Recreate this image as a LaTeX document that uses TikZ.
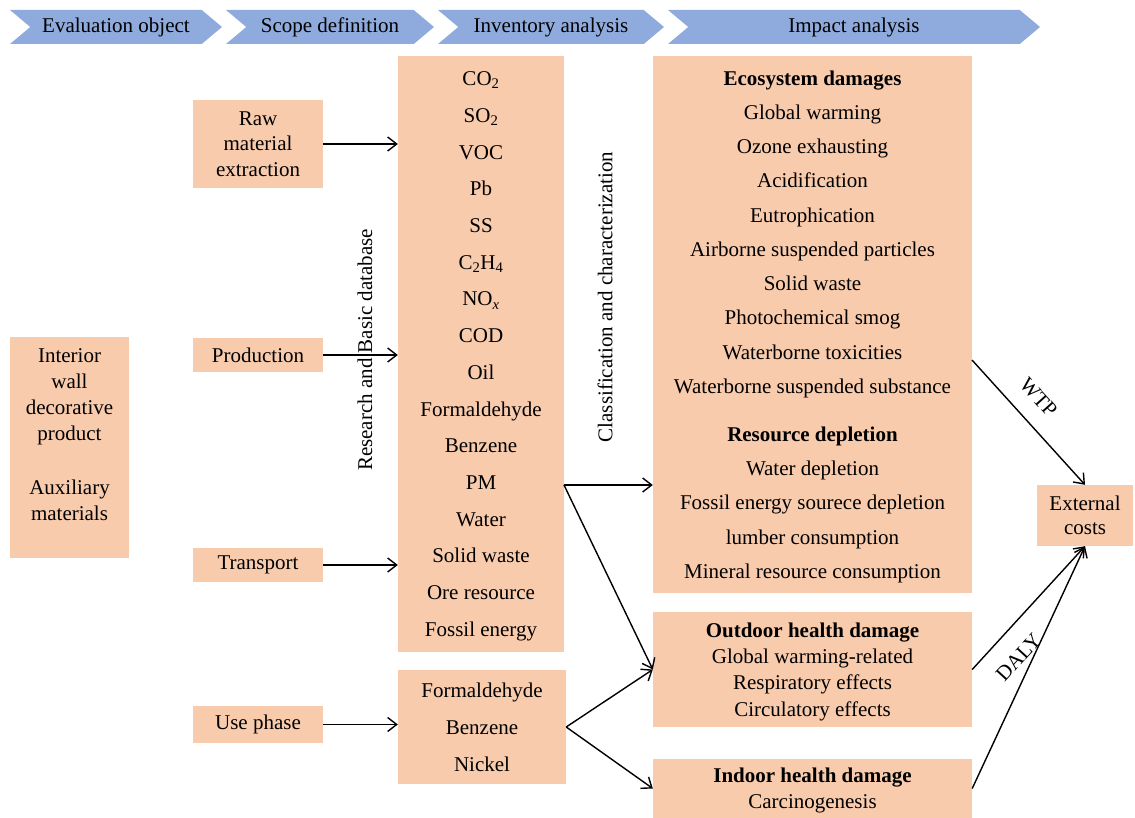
\documentclass[tikz,border=0pt]{standalone}
\usepackage{fontspec}
\setmainfont{Liberation Serif}
\usetikzlibrary{shapes.symbols,arrows.meta}
\definecolor{boxfill}{HTML}{F8CBAD}
\definecolor{phasefill}{HTML}{8FAADC}
\tikzset{
  box/.style={fill=boxfill,align=center,inner sep=0pt},
  phase/.style={signal,signal from=west,signal to=east,signal pointer angle=80,
    fill=phasefill,minimum height=34pt,inner sep=0pt},
  flow/.style={line width=1.4pt,-{Straight Barb[length=9pt,width=14pt]}},
  sp/.style={font=\fontsize{21}{#1}\selectfont,text depth=-7pt},
}
\begin{document}
\begin{tikzpicture}[x=1pt,y=-1pt,font=\fontsize{21}{25}\selectfont]
\useasboundingbox (0,0) rectangle (1135,818);
% phases
\node[phase,minimum width=212pt](ph1) at (116,27) {Evaluation object};
\node[phase,minimum width=208pt](ph2) at (330,27) {Scope definition};
\node[phase,minimum width=226pt](ph3) at (551,27) {Inventory analysis};
\node[phase,minimum width=372pt](ph4) at (854,27) {Impact analysis};
%
\node[box,minimum width=119pt,minimum height=221pt](obj) at (69.5,447.5) {};
\node[align=center,sp=26](objtxt) at (69.5,435) {Interior\\wall\\decorative\\product\\[28pt]Auxiliary\\materials};
%
\node[box,sp=25.5,minimum width=130pt,minimum height=88pt](raw) at (258,144) {Raw\\material\\extraction};
\node[box,minimum width=130pt,minimum height=34pt](prod) at (258,355) {Production};
\node[box,minimum width=130pt,minimum height=34pt](trans) at (258,565) {Transport};
\node[box,minimum width=130pt,minimum height=37pt](use) at (258,724.5) {Use phase};
%
\node[box,sp=36.7,minimum width=166pt,minimum height=596pt](inv) at (481,354) {CO\textsubscript{2}\\SO\textsubscript{2}\\VOC\\Pb\\SS\\C\textsubscript{2}H\textsubscript{4}\\NO\textsubscript{\textit{x}}\\COD\\Oil\\Formaldehyde\\Benzene\\PM\\Water\\Solid waste\\Ore resource\\Fossil energy};
\node[box,sp=37,minimum width=168pt,minimum height=114pt](invs) at (482,727) {Formaldehyde\\Benzene\\Nickel};
%
\node[box,sp=34.25,minimum width=319pt,minimum height=537pt](impbig) at (812.5,324.5) {\textbf{Ecosystem damages}\\Global warming\\Ozone exhausting\\Acidification\\Eutrophication\\Airborne suspended particles\\Solid waste\\Photochemical smog\\Waterborne toxicities\\Waterborne suspended substance\\[13.8pt]\textbf{Resource depletion}\\Water depletion\\Fossil energy sourece depletion\\lumber consumption\\Mineral resource consumption};
\node[box,sp=26.3,minimum width=319pt,minimum height=115pt](outdoor) at (812.5,669.5) {\textbf{Outdoor health damage}\\Global warming-related\\Respiratory effects\\Circulatory effects};
\node[box,sp=26,minimum width=319pt,minimum height=59pt](indoor) at (812.5,788.5) {\textbf{Indoor health damage}\\Carcinogenesis};
\node[box,sp=24,minimum width=96pt,minimum height=61pt](ext) at (1085,515.5) {External\\costs};
%
\node[rotate=90](resdb) at (365,350) {Research and Basic database};
\node[rotate=90](classif) at (605,297) {Classification and characterization};
%
\draw[flow](raw)--(raw -| inv.west);
\draw[flow](prod)--(prod -| inv.west);
\draw[flow](trans)--(trans -| inv.west);
\draw[flow](use)--(use -| invs.west);
\coordinate(fan) at (564,485);
\draw[flow](fan)--(fan -| impbig.west);
\draw[flow](fan)--(outdoor.west);
\draw[flow](invs.east)--(outdoor.west);
\draw[flow](invs.east)--(indoor.west);
\coordinate(wtp) at (972,360);
\draw[flow](wtp)--node[sloped,above=13pt,pos=0.43]{WTP}(ext.north);
\draw[flow](outdoor.east)--node[sloped,below=15pt,pos=0.24]{DALY}(ext.south);
\draw[flow](indoor.east)--(ext.south);
\end{tikzpicture}
\end{document}
